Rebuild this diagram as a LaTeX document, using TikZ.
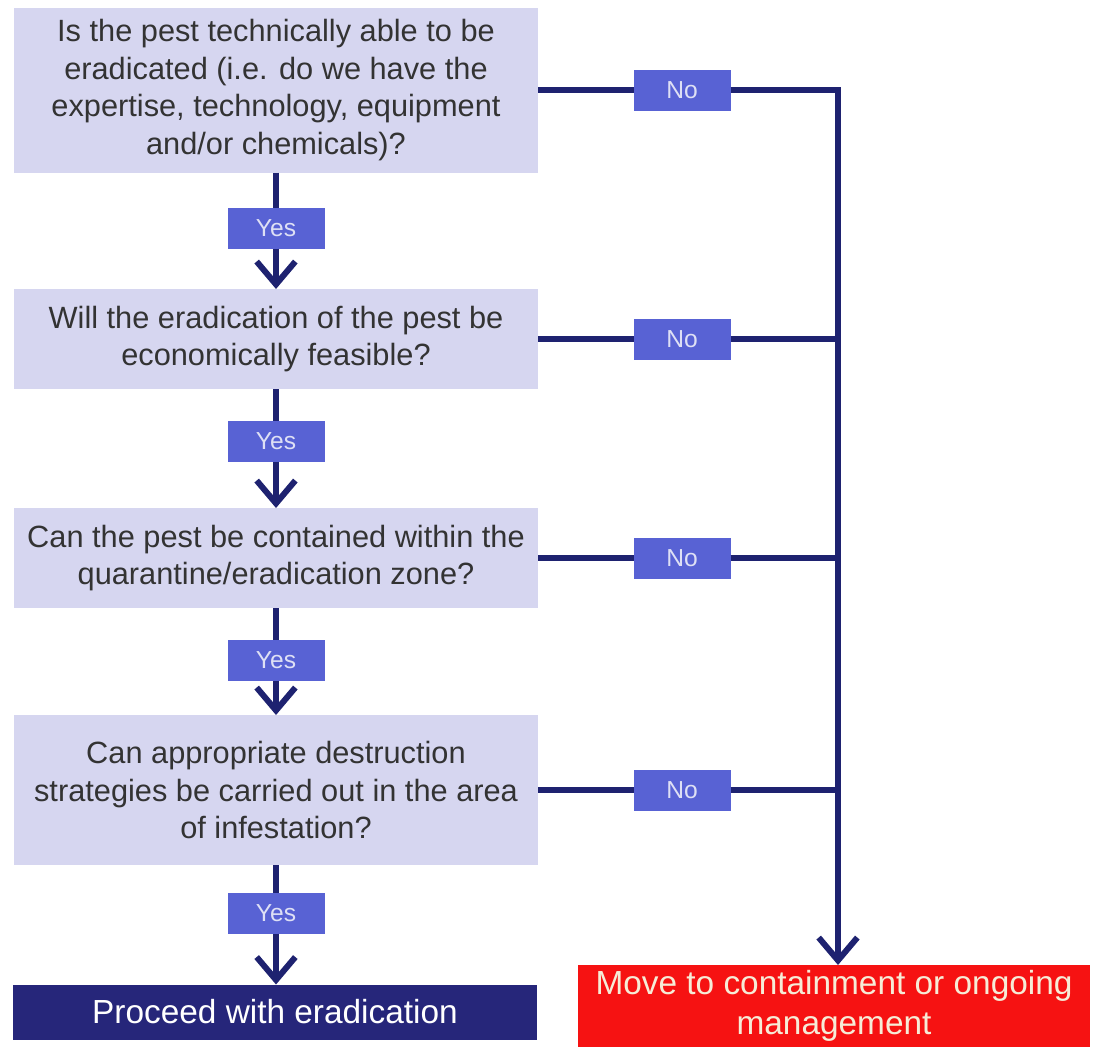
\documentclass[tikz,border=0pt]{standalone}
\usepackage{fontspec}
\setmainfont{Liberation Sans}
\usepackage{tikz}
\usetikzlibrary{arrows.meta}

\definecolor{qfill}{RGB}{214,214,240}
\definecolor{tagfill}{RGB}{88,98,212}
\definecolor{tagtext}{RGB}{222,224,245}
\definecolor{linknavy}{RGB}{30,34,112}
\definecolor{gofill}{RGB}{38,38,122}
\definecolor{stopfill}{RGB}{246,18,18}
\definecolor{stoptext}{RGB}{246,236,215}

\begin{document}
\begin{tikzpicture}[line width=3.4pt, draw=linknavy,
    >={Straight Barb[length=13pt,width=22pt,line width=3.4pt]}]
    \tikzstyle{question}=[rectangle,fill=qfill,text=black!80,align=center,outer sep=0pt,
        minimum width=10.48cm,inner sep=0pt,font=\fontsize{17.5}{21.5}\selectfont]
    \tikzstyle{tag}=[rectangle,fill=tagfill,text=tagtext,minimum width=1.94cm,outer sep=0pt,
        minimum height=0.82cm,inner sep=0pt,font=\fontsize{14}{16}\selectfont]
    \tikzstyle{answer}=[rectangle,align=center,inner sep=0pt,outer sep=0pt,
        font=\fontsize{19}{23}\selectfont]
    \useasboundingbox (0,0) rectangle (21.86,-21.0);

    % Draw the question boxes
    \node[question, minimum height=3.3cm] (Q-1) at (5.52,-1.8)
        {Is the pest technically able to be\\eradicated (i.e. do we have the\\expertise, technology, equipment\\and/or chemicals)?};
    \node[question, minimum height=2.0cm] (Q-2) at (5.52,-6.78)
        {Will the eradication of the pest be\\economically feasible?};
    \node[question, minimum height=2.0cm] (Q-3) at (5.52,-11.16)
        {Can the pest be contained within the\\quarantine/eradication zone?};
    \node[question, minimum height=3.0cm] (Q-4) at (5.52,-15.8)
        {Can appropriate destruction\\strategies be carried out in the area\\of infestation?};

    % Outcomes
    \node[answer, fill=gofill, text=white, minimum width=10.48cm, minimum height=1.1cm] (Go) at (5.5,-20.24)
        {Proceed with eradication};
    \node[answer, fill=stopfill, text=stoptext, minimum width=10.24cm, minimum height=1.64cm] (Stop) at (16.68,-20.12)
        {Move to containment or ongoing\\management};

    % Yes / No labels
    \node[tag] (Y-1) at (5.52,-4.56) {Yes};
    \node[tag] (Y-2) at (5.52,-8.82) {Yes};
    \node[tag] (Y-3) at (5.52,-13.2) {Yes};
    \node[tag] (Y-4) at (5.52,-18.26) {Yes};
    \node[tag] (N-1) at (13.64,-1.8) {No};
    \node[tag] (N-2) at (13.64,-6.78) {No};
    \node[tag] (N-3) at (13.64,-11.16) {No};
    \node[tag] (N-4) at (13.64,-15.8) {No};

    \coordinate (J-1) at (16.76,-1.8);
    \coordinate (J-2) at (16.76,-6.78);
    \coordinate (J-3) at (16.76,-11.16);
    \coordinate (J-4) at (16.76,-15.8);

    % Yes branch
    \path (Q-1.south) edge (Y-1.north);
    \path (Y-1.south) edge[->] (Q-2.north);
    \path (Q-2.south) edge (Y-2.north);
    \path (Y-2.south) edge[->] (Q-3.north);
    \path (Q-3.south) edge (Y-3.north);
    \path (Y-3.south) edge[->] (Q-4.north);
    \path (Q-4.south) edge (Y-4.north);
    \path (Y-4.south) edge[->] (Go.north -| Y-4.south);

    % No branch
    \path (Q-1.east) edge (N-1.west);
    \path (Q-2.east) edge (N-2.west);
    \path (Q-3.east) edge (N-3.west);
    \path (Q-4.east) edge (N-4.west);
    \draw[->] (N-1.east) -- (J-1) -- (J-1 |- Stop.north);
    \path (N-2.east) edge (J-2);
    \path (N-3.east) edge (J-3);
    \path (N-4.east) edge (J-4);
\end{tikzpicture}
\end{document}
